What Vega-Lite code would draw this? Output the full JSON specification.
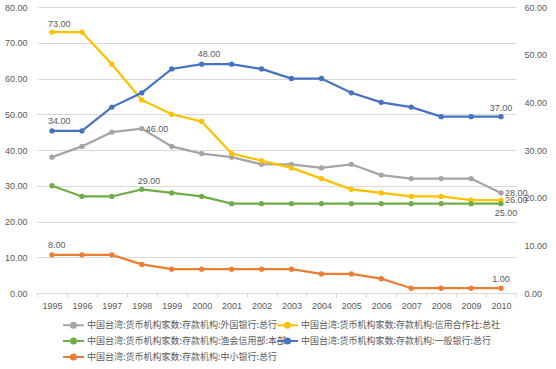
{
  "$schema": "https://vega.github.io/schema/vega-lite/v6.json",
  "width": 479,
  "height": 286,
  "autosize": {"type": "none"},
  "padding": {"left": 37, "top": 7, "right": 40, "bottom": 76},
  "background": "white",
  "config": {
    "view": {"stroke": null},
    "font": "Liberation Sans",
    "axis": {"labelColor": "#595959", "labelFontSize": 9, "labelFont": "Liberation Sans", "domainColor": "#d9d9d9", "tickColor": "#d9d9d9", "gridColor": "#d9d9d9", "title": null}
  },
  "datasets": {
    "d": [
      {"year": "1995", "series": "中国台湾:货币机构家数:存款机构:外国银行:总行", "value": 38},
      {"year": "1996", "series": "中国台湾:货币机构家数:存款机构:外国银行:总行", "value": 41},
      {"year": "1997", "series": "中国台湾:货币机构家数:存款机构:外国银行:总行", "value": 45},
      {"year": "1998", "series": "中国台湾:货币机构家数:存款机构:外国银行:总行", "value": 46},
      {"year": "1999", "series": "中国台湾:货币机构家数:存款机构:外国银行:总行", "value": 41},
      {"year": "2000", "series": "中国台湾:货币机构家数:存款机构:外国银行:总行", "value": 39},
      {"year": "2001", "series": "中国台湾:货币机构家数:存款机构:外国银行:总行", "value": 38},
      {"year": "2002", "series": "中国台湾:货币机构家数:存款机构:外国银行:总行", "value": 36},
      {"year": "2003", "series": "中国台湾:货币机构家数:存款机构:外国银行:总行", "value": 36},
      {"year": "2004", "series": "中国台湾:货币机构家数:存款机构:外国银行:总行", "value": 35},
      {"year": "2005", "series": "中国台湾:货币机构家数:存款机构:外国银行:总行", "value": 36},
      {"year": "2006", "series": "中国台湾:货币机构家数:存款机构:外国银行:总行", "value": 33},
      {"year": "2007", "series": "中国台湾:货币机构家数:存款机构:外国银行:总行", "value": 32},
      {"year": "2008", "series": "中国台湾:货币机构家数:存款机构:外国银行:总行", "value": 32},
      {"year": "2009", "series": "中国台湾:货币机构家数:存款机构:外国银行:总行", "value": 32},
      {"year": "2010", "series": "中国台湾:货币机构家数:存款机构:外国银行:总行", "value": 28},
      {"year": "1995", "series": "中国台湾:货币机构家数:存款机构:信用合作社:总社", "value": 73},
      {"year": "1996", "series": "中国台湾:货币机构家数:存款机构:信用合作社:总社", "value": 73},
      {"year": "1997", "series": "中国台湾:货币机构家数:存款机构:信用合作社:总社", "value": 64},
      {"year": "1998", "series": "中国台湾:货币机构家数:存款机构:信用合作社:总社", "value": 54},
      {"year": "1999", "series": "中国台湾:货币机构家数:存款机构:信用合作社:总社", "value": 50},
      {"year": "2000", "series": "中国台湾:货币机构家数:存款机构:信用合作社:总社", "value": 48},
      {"year": "2001", "series": "中国台湾:货币机构家数:存款机构:信用合作社:总社", "value": 39},
      {"year": "2002", "series": "中国台湾:货币机构家数:存款机构:信用合作社:总社", "value": 37},
      {"year": "2003", "series": "中国台湾:货币机构家数:存款机构:信用合作社:总社", "value": 35},
      {"year": "2004", "series": "中国台湾:货币机构家数:存款机构:信用合作社:总社", "value": 32},
      {"year": "2005", "series": "中国台湾:货币机构家数:存款机构:信用合作社:总社", "value": 29},
      {"year": "2006", "series": "中国台湾:货币机构家数:存款机构:信用合作社:总社", "value": 28},
      {"year": "2007", "series": "中国台湾:货币机构家数:存款机构:信用合作社:总社", "value": 27},
      {"year": "2008", "series": "中国台湾:货币机构家数:存款机构:信用合作社:总社", "value": 27},
      {"year": "2009", "series": "中国台湾:货币机构家数:存款机构:信用合作社:总社", "value": 26},
      {"year": "2010", "series": "中国台湾:货币机构家数:存款机构:信用合作社:总社", "value": 26},
      {"year": "1995", "series": "中国台湾:货币机构家数:存款机构:渔会信用部:本部", "value": 30},
      {"year": "1996", "series": "中国台湾:货币机构家数:存款机构:渔会信用部:本部", "value": 27},
      {"year": "1997", "series": "中国台湾:货币机构家数:存款机构:渔会信用部:本部", "value": 27},
      {"year": "1998", "series": "中国台湾:货币机构家数:存款机构:渔会信用部:本部", "value": 29},
      {"year": "1999", "series": "中国台湾:货币机构家数:存款机构:渔会信用部:本部", "value": 28},
      {"year": "2000", "series": "中国台湾:货币机构家数:存款机构:渔会信用部:本部", "value": 27},
      {"year": "2001", "series": "中国台湾:货币机构家数:存款机构:渔会信用部:本部", "value": 25},
      {"year": "2002", "series": "中国台湾:货币机构家数:存款机构:渔会信用部:本部", "value": 25},
      {"year": "2003", "series": "中国台湾:货币机构家数:存款机构:渔会信用部:本部", "value": 25},
      {"year": "2004", "series": "中国台湾:货币机构家数:存款机构:渔会信用部:本部", "value": 25},
      {"year": "2005", "series": "中国台湾:货币机构家数:存款机构:渔会信用部:本部", "value": 25},
      {"year": "2006", "series": "中国台湾:货币机构家数:存款机构:渔会信用部:本部", "value": 25},
      {"year": "2007", "series": "中国台湾:货币机构家数:存款机构:渔会信用部:本部", "value": 25},
      {"year": "2008", "series": "中国台湾:货币机构家数:存款机构:渔会信用部:本部", "value": 25},
      {"year": "2009", "series": "中国台湾:货币机构家数:存款机构:渔会信用部:本部", "value": 25},
      {"year": "2010", "series": "中国台湾:货币机构家数:存款机构:渔会信用部:本部", "value": 25},
      {"year": "1995", "series": "中国台湾:货币机构家数:存款机构:一般银行:总行", "value": 34},
      {"year": "1996", "series": "中国台湾:货币机构家数:存款机构:一般银行:总行", "value": 34},
      {"year": "1997", "series": "中国台湾:货币机构家数:存款机构:一般银行:总行", "value": 39},
      {"year": "1998", "series": "中国台湾:货币机构家数:存款机构:一般银行:总行", "value": 42},
      {"year": "1999", "series": "中国台湾:货币机构家数:存款机构:一般银行:总行", "value": 47},
      {"year": "2000", "series": "中国台湾:货币机构家数:存款机构:一般银行:总行", "value": 48},
      {"year": "2001", "series": "中国台湾:货币机构家数:存款机构:一般银行:总行", "value": 48},
      {"year": "2002", "series": "中国台湾:货币机构家数:存款机构:一般银行:总行", "value": 47},
      {"year": "2003", "series": "中国台湾:货币机构家数:存款机构:一般银行:总行", "value": 45},
      {"year": "2004", "series": "中国台湾:货币机构家数:存款机构:一般银行:总行", "value": 45},
      {"year": "2005", "series": "中国台湾:货币机构家数:存款机构:一般银行:总行", "value": 42},
      {"year": "2006", "series": "中国台湾:货币机构家数:存款机构:一般银行:总行", "value": 40},
      {"year": "2007", "series": "中国台湾:货币机构家数:存款机构:一般银行:总行", "value": 39},
      {"year": "2008", "series": "中国台湾:货币机构家数:存款机构:一般银行:总行", "value": 37},
      {"year": "2009", "series": "中国台湾:货币机构家数:存款机构:一般银行:总行", "value": 37},
      {"year": "2010", "series": "中国台湾:货币机构家数:存款机构:一般银行:总行", "value": 37},
      {"year": "1995", "series": "中国台湾:货币机构家数:存款机构:中小银行:总行", "value": 8},
      {"year": "1996", "series": "中国台湾:货币机构家数:存款机构:中小银行:总行", "value": 8},
      {"year": "1997", "series": "中国台湾:货币机构家数:存款机构:中小银行:总行", "value": 8},
      {"year": "1998", "series": "中国台湾:货币机构家数:存款机构:中小银行:总行", "value": 6},
      {"year": "1999", "series": "中国台湾:货币机构家数:存款机构:中小银行:总行", "value": 5},
      {"year": "2000", "series": "中国台湾:货币机构家数:存款机构:中小银行:总行", "value": 5},
      {"year": "2001", "series": "中国台湾:货币机构家数:存款机构:中小银行:总行", "value": 5},
      {"year": "2002", "series": "中国台湾:货币机构家数:存款机构:中小银行:总行", "value": 5},
      {"year": "2003", "series": "中国台湾:货币机构家数:存款机构:中小银行:总行", "value": 5},
      {"year": "2004", "series": "中国台湾:货币机构家数:存款机构:中小银行:总行", "value": 4},
      {"year": "2005", "series": "中国台湾:货币机构家数:存款机构:中小银行:总行", "value": 4},
      {"year": "2006", "series": "中国台湾:货币机构家数:存款机构:中小银行:总行", "value": 3},
      {"year": "2007", "series": "中国台湾:货币机构家数:存款机构:中小银行:总行", "value": 1},
      {"year": "2008", "series": "中国台湾:货币机构家数:存款机构:中小银行:总行", "value": 1},
      {"year": "2009", "series": "中国台湾:货币机构家数:存款机构:中小银行:总行", "value": 1},
      {"year": "2010", "series": "中国台湾:货币机构家数:存款机构:中小银行:总行", "value": 1}
    ]
  },
  "data": {"name": "d"},
  "encoding": {
    "x": {
      "field": "year", "type": "ordinal",
      "scale": {"type": "band", "paddingInner": 0, "paddingOuter": 0},
      "axis": {"labelAngle": 0, "tickBand": "extent", "tickSize": 4, "labelPadding": 4, "domainColor": "#d9d9d9", "grid": false}
    }
  },
  "layer": [
    {
      "encoding": {
        "y": {
          "field": "value", "type": "quantitative",
          "scale": {"domain": [0, 80], "nice": false},
          "axis": {"orient": "left", "values": [0, 10, 20, 30, 40, 50, 60, 70, 80], "format": ".2f", "grid": true, "domain": false, "ticks": false, "labelPadding": 10}
        }
      },
      "layer": [
        {
          "transform": [{"filter": "indexof(['中国台湾:货币机构家数:存款机构:外国银行:总行','中国台湾:货币机构家数:存款机构:信用合作社:总社','中国台湾:货币机构家数:存款机构:渔会信用部:本部'], datum.series) >= 0"}],
          "mark": {"type": "line", "strokeWidth": 2.25, "point": {"filled": true, "size": 28}},
          "encoding": {
            "color": {
              "field": "series", "type": "nominal",
              "scale": {
                "domain": ["中国台湾:货币机构家数:存款机构:外国银行:总行", "中国台湾:货币机构家数:存款机构:渔会信用部:本部", "中国台湾:货币机构家数:存款机构:中小银行:总行", "中国台湾:货币机构家数:存款机构:信用合作社:总社", "中国台湾:货币机构家数:存款机构:一般银行:总行"],
                "range": ["#a5a5a5", "#70ad47", "#ed7d31", "#ffc000", "#4472c4"]
              },
              "legend": {
                "title": null, "orient": "none", "legendX": 36, "legendY": 312, "columns": 2, "columnPadding": -15, "rowPadding": 2,
                "symbolType": "M-3.2,0L1,0M-0.6,0A0.5,0.5,0,1,1,-1.6,0A0.5,0.5,0,1,1,-0.6,0",
                "symbolSize": 100, "symbolStrokeWidth": 2, "labelFont": "Noto Sans CJK SC", "labelFontSize": 9, "labelColor": "#595959", "labelOffset": 2, "labelLimit": 300,
                "encode": {"symbols": {"update": {"fill": {"scale": "color", "field": "value"}, "fillOpacity": {"value": 1}}}}
              }
            }
          }
        },
        {
          "transform": [{"filter": "(datum.series == '中国台湾:货币机构家数:存款机构:信用合作社:总社' && datum.year == '1995') || (datum.series == '中国台湾:货币机构家数:存款机构:渔会信用部:本部' && datum.year == '1998')"}],
          "mark": {"type": "text", "align": "left", "dx": -4, "dy": -8, "fontSize": 9, "color": "#595959"},
          "encoding": {"text": {"field": "value", "type": "quantitative", "format": ".2f"}}
        },
        {
          "transform": [{"filter": "(datum.series == '中国台湾:货币机构家数:存款机构:外国银行:总行' && (datum.year == '1998' || datum.year == '2010')) || (datum.series == '中国台湾:货币机构家数:存款机构:信用合作社:总社' && datum.year == '2010')"}],
          "mark": {"type": "text", "align": "left", "dx": 4, "dy": 0, "fontSize": 9, "color": "#595959"},
          "encoding": {"text": {"field": "value", "type": "quantitative", "format": ".2f"}}
        },
        {
          "transform": [{"filter": "datum.series == '中国台湾:货币机构家数:存款机构:渔会信用部:本部' && datum.year == '2010'"}],
          "mark": {"type": "text", "align": "center", "dx": 5, "dy": 9, "fontSize": 9, "color": "#595959"},
          "encoding": {"text": {"field": "value", "type": "quantitative", "format": ".2f"}}
        }
      ]
    },
    {
      "transform": [{"filter": "indexof(['中国台湾:货币机构家数:存款机构:一般银行:总行','中国台湾:货币机构家数:存款机构:中小银行:总行'], datum.series) >= 0"}],
      "encoding": {
        "y": {
          "field": "value", "type": "quantitative",
          "scale": {"domain": [0, 60], "nice": false},
          "axis": {"orient": "right", "values": [0, 10, 20, 30, 40, 50, 60], "format": ".2f", "grid": false, "domain": false, "ticks": false, "labelPadding": 8}
        }
      },
      "layer": [
        {
          "mark": {"type": "line", "strokeWidth": 2.25, "point": {"filled": true, "size": 28}},
          "encoding": {"color": {"field": "series", "type": "nominal"}}
        },
        {
          "transform": [{"filter": "datum.year == '1995' || (datum.series == '中国台湾:货币机构家数:存款机构:一般银行:总行' && datum.year == '2000')"}],
          "mark": {"type": "text", "align": "left", "dx": -4, "dy": -10, "fontSize": 9, "color": "#595959"},
          "encoding": {"text": {"field": "value", "type": "quantitative", "format": ".2f"}}
        },
        {
          "transform": [{"filter": "datum.year == '2010'"}],
          "mark": {"type": "text", "align": "center", "dx": 0, "dy": -9, "fontSize": 9, "color": "#595959"},
          "encoding": {"text": {"field": "value", "type": "quantitative", "format": ".2f"}}
        }
      ]
    }
  ],
  "resolve": {"scale": {"y": "independent"}, "axis": {"y": "independent"}}
}
